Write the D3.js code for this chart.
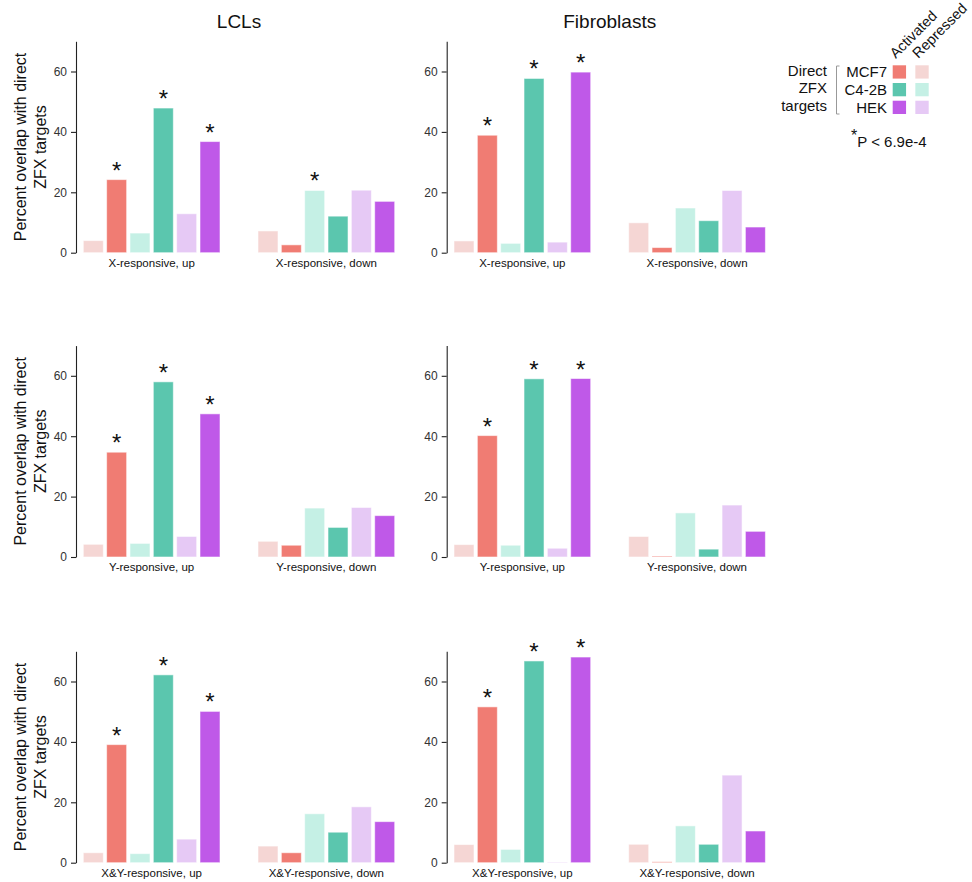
<!DOCTYPE html>
<html>
<head>
<meta charset="utf-8">
<script src="https://cdn.jsdelivr.net/npm/d3@7"></script>
<style>
  body { margin: 0; background: #fff; }
  svg { font-family: "Liberation Sans", Arial, Helvetica, sans-serif; }
</style>
</head>
<body>
<div id="chart"></div>
<script>
// ---- data (percent overlap), bar order: MCF7 rep, MCF7 act, C4-2B rep, C4-2B act, HEK rep, HEK act
const columns = ["LCLs", "Fibroblasts"];
const rowNames = ["X-responsive", "Y-responsive", "X&Y-responsive"];
const directions = ["up", "down"];
const cellLines = ["MCF7", "C4-2B", "HEK"];
const kinds = ["Activated", "Repressed"];

const lclXUp      = [4.0, 24.2, 6.5, 47.9, 12.9, 36.8];
const lclXDown    = [7.2, 2.6, 20.6, 12.1, 20.7, 17.0];
const fibXUp      = [3.9, 38.9, 3.1, 57.7, 3.5, 59.8];
const fibXDown    = [9.9, 1.7, 14.8, 10.6, 20.6, 8.5];
const lclYUp      = [4.2, 34.7, 4.5, 58.0, 6.8, 47.4];
const lclYDown    = [5.2, 3.9, 16.2, 9.8, 16.4, 13.7];
const fibYUp      = [4.1, 40.2, 3.9, 59.0, 2.9, 59.1];
const fibYDown    = [6.8, 0.3, 14.6, 2.6, 17.2, 8.5];
const lclXYUp     = [3.3, 39.1, 3.0, 62.2, 7.8, 50.1];
const lclXYDown   = [5.5, 3.3, 16.2, 10.1, 18.5, 13.6];
const fibXYUp     = [6.0, 51.6, 4.4, 66.8, 0.2, 68.1];
const fibXYDown   = [6.1, 0.3, 12.2, 6.1, 29.0, 10.5];

// significant bars (index into the arrays above)
const lclXUpStars = [1, 3, 5];
const lclXDownStars = [2];
const upStars = [1, 3, 5];

const yTicks = [0, 20, 40, 60];

const panels = [
  [{up: lclXUp, down: lclXDown, upStars: lclXUpStars, downStars: lclXDownStars},
   {up: fibXUp, down: fibXDown, upStars: upStars, downStars: []}],
  [{up: lclYUp, down: lclYDown, upStars: upStars, downStars: []},
   {up: fibYUp, down: fibYDown, upStars: upStars, downStars: []}],
  [{up: lclXYUp, down: lclXYDown, upStars: upStars, downStars: []},
   {up: fibXYUp, down: fibXYDown, upStars: upStars, downStars: []}]
];

const activeColor = {"MCF7": "#f07c73", "C4-2B": "#5bc6ae", "HEK": "#bf59e8"};
const repressColor = {"MCF7": "#f5d6d4", "C4-2B": "#c5f0e5", "HEK": "#e6c9f5"};

function barColor(i) {
  const line = cellLines[Math.floor(i / 2)];
  return i % 2 === 1 ? activeColor[line] : repressColor[line];
}

const W = 972, H = 882;
const colAxisX = [76, 446.7];
const rowZeroY = [252.7, 557, 862.7];
const plotH = 211.4;

const svg = d3.select("#chart").append("svg")
    .attr("width", W)
    .attr("height", H);

// column titles
columns.forEach(function (c, ci) {
  svg.append("text")
      .attr("x", colAxisX[ci] + 163)
      .attr("y", 28)
      .attr("text-anchor", "middle")
      .style("font-size", "19px")
      .attr("fill", "#111")
      .text(c);
});

panels.forEach(function (row, ri) {
  row.forEach(function (p, ci) {
    const ax = colAxisX[ci], y0 = rowZeroY[ri];
    const g = svg.append("g");

    const y = d3.scaleLinear().domain([0, 70]).range([y0, y0 - plotH]);
    const x = d3.scaleBand().domain(directions)
        .range([ax + 7.3, ax + 318.7])
        .paddingInner(0.2175);
    const xi = d3.scaleBand().domain(d3.range(6))
        .range([0, x.bandwidth()])
        .paddingInner(0.143);

    // y axis
    const yAxis = d3.axisLeft(y).tickValues(yTicks).tickSize(5).tickSizeOuter(0).tickPadding(4);
    const ga = g.append("g").attr("transform", "translate(" + ax + ",0)").call(yAxis);
    ga.select(".domain").attr("stroke", "#222").attr("stroke-width", 1.1);
    ga.selectAll(".tick line").attr("stroke", "#222").attr("stroke-width", 1.1);
    ga.selectAll(".tick text").attr("fill", "#333").style("font-size", "12px")
        .style("font-family", "'Liberation Sans', Arial, sans-serif");

    if (ci === 0) {
      const mid = (y(0) + y(70)) / 2;
      const t = g.append("text")
          .attr("transform", "translate(30," + mid + ") rotate(-90)")
          .attr("text-anchor", "middle")
          .style("font-size", "16px")
          .attr("fill", "#111");
      t.append("tspan").attr("x", 0).attr("dy", "-0.25em").text("Percent overlap with direct");
      t.append("tspan").attr("x", 0).attr("dy", "1.25em").text("ZFX targets");
    }

    directions.forEach(function (dir) {
      const vals = p[dir];
      const stars = p[dir + "Stars"];
      const gx = x(dir);

      g.selectAll(null)
          .data(vals)
          .enter().append("rect")
          .attr("x", function (d, i) { return gx + xi(i); })
          .attr("y", function (d) { return y(d); })
          .attr("width", xi.bandwidth())
          .attr("height", function (d) { return y(0) - y(d); })
          .attr("fill", function (d, i) { return barColor(i); })
          .attr("stroke", "#ffffff")
          .attr("stroke-opacity", 0.55)
          .attr("stroke-width", 1);

      g.selectAll(null)
          .data(stars)
          .enter().append("text")
          .attr("x", function (i) { return gx + xi(i) + xi.bandwidth() / 2; })
          .attr("y", function (i) { return y(vals[i]) - 1; })
          .attr("text-anchor", "middle")
          .style("font-size", "24px")
          .attr("fill", "#111")
          .text("*");

      g.append("text")
          .attr("x", gx + x.bandwidth() / 2)
          .attr("y", y0 + 14)
          .attr("text-anchor", "middle")
          .style("font-size", "11.5px")
          .attr("fill", "#111")
          .text(rowNames[ri] + ", " + dir);
    });
  });
});

// ---- legend
const leg = svg.append("g");
["Direct", "ZFX", "targets"].forEach(function (s, i) {
  leg.append("text")
      .attr("x", 827)
      .attr("y", 75.5 + i * 17.5)
      .attr("text-anchor", "end")
      .style("font-size", "15px")
      .attr("fill", "#111")
      .text(s);
});
leg.append("path")
    .attr("d", "M839.5,66H836.5V114H839.5")
    .attr("fill", "none")
    .attr("stroke", "#999")
    .attr("stroke-width", 1);

const swY = d3.scaleBand().domain(cellLines).range([65.3, 114]).paddingInner(0.25);
const swX = d3.scaleBand().domain(kinds).range([892.7, 928.7]).paddingInner(0.41);

cellLines.forEach(function (cl) {
  leg.append("text")
      .attr("x", 887)
      .attr("y", swY(cl) + swY.bandwidth() / 2 + 5.3)
      .attr("text-anchor", "end")
      .style("font-size", "15px")
      .attr("fill", "#111")
      .text(cl);
  leg.append("rect")
      .attr("x", swX("Activated")).attr("y", swY(cl))
      .attr("width", swX.bandwidth()).attr("height", swY.bandwidth())
      .attr("fill", activeColor[cl]);
  leg.append("rect")
      .attr("x", swX("Repressed")).attr("y", swY(cl))
      .attr("width", swX.bandwidth()).attr("height", swY.bandwidth())
      .attr("fill", repressColor[cl]);
});

kinds.forEach(function (k) {
  leg.append("text")
      .attr("transform", "translate(" + (swX(k) + 3) + ",59) rotate(-45)")
      .style("font-size", "14.5px")
      .attr("fill", "#111")
      .text(k);
});

const pt = leg.append("text")
    .attr("x", 851)
    .attr("y", 147.3)
    .style("font-size", "15px")
    .attr("fill", "#111");
pt.append("tspan").attr("dy", "-0.4em").style("font-size", "16px").text("*");
pt.append("tspan").attr("dy", "0.4em").text("P < 6.9e-4");
</script>
</body>
</html>
